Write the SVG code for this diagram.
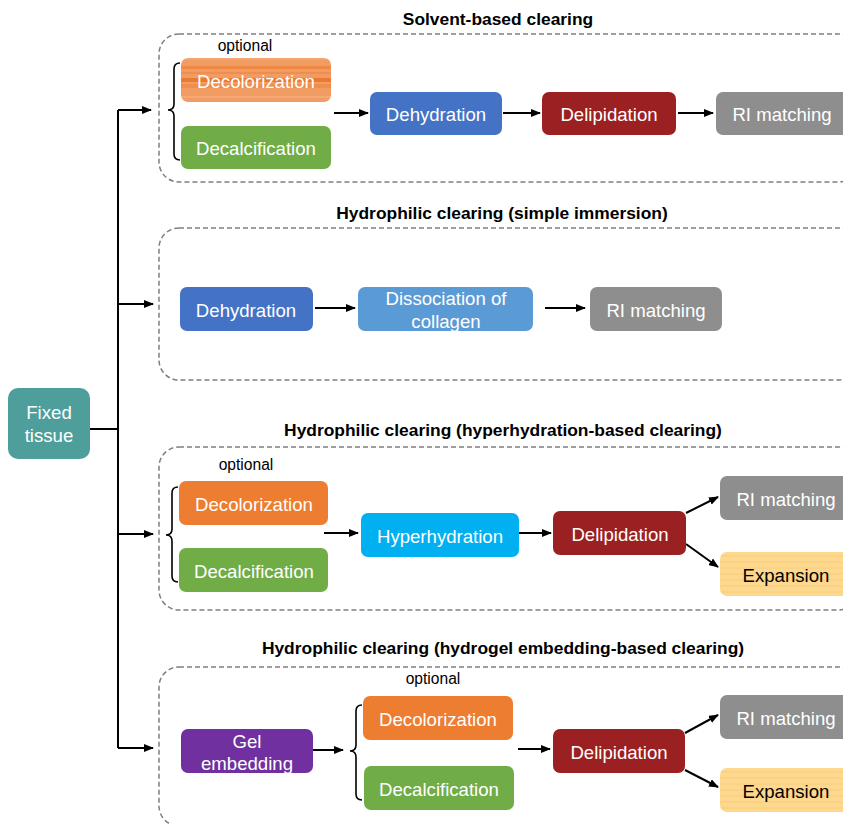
<svg xmlns="http://www.w3.org/2000/svg" width="843" height="824" viewBox="0 0 843 824">
<defs>
<marker id="ah" markerWidth="10" markerHeight="8" refX="9" refY="4" orient="auto" markerUnits="userSpaceOnUse">
<path d="M0,0 L10,4 L0,8 Z" fill="#000"/>
</marker>
<pattern id="orstripe" width="10" height="44" patternUnits="userSpaceOnUse">
<rect width="10" height="44" fill="#F19C62"/>
<rect y="8" width="10" height="2" fill="#F4A877"/>
<rect y="14" width="10" height="2" fill="#F3A571"/>
<rect y="22" width="10" height="3" fill="#EE8A45"/>
<rect y="28" width="10" height="2" fill="#EF8F4F"/>
<rect y="34" width="10" height="4" fill="#EB7A30"/>
<rect y="40" width="10" height="4" fill="#EF8E4E"/>
</pattern>
<pattern id="yelstripe" width="10" height="6" patternUnits="userSpaceOnUse">
<rect width="10" height="6" fill="#FDD990"/>
<rect y="3" width="10" height="2" fill="#FBD283"/>
</pattern>
</defs>
<style>
.title{font-family:"Liberation Sans",Arial,sans-serif;font-size:17.4px;font-weight:bold;fill:#000;text-anchor:middle}
.opt{font-family:"Liberation Sans",Arial,sans-serif;font-size:15.6px;fill:#000;text-anchor:middle}
.lbl{font-family:"Liberation Sans",Arial,sans-serif;font-size:18.6px;fill:#fff;text-anchor:middle;dominant-baseline:central}
.dk{fill:#000}
.dash{fill:none;stroke:#7f7f7f;stroke-width:1.5;stroke-dasharray:5,3}
.ln{fill:none;stroke:#000;stroke-width:2}
.arr{fill:none;stroke:#000;stroke-width:2;marker-end:url(#ah)}
.br{fill:none;stroke:#000;stroke-width:1.6}
</style>

<g id="frames">
<rect class="dash" x="159" y="34" width="700" height="148" rx="20"/>
<rect class="dash" x="159" y="228" width="700" height="152" rx="20"/>
<rect class="dash" x="159" y="447" width="700" height="163" rx="20"/>
<rect class="dash" x="159" y="667" width="700" height="159" rx="20"/>
<text class="title" x="498" y="25">Solvent-based clearing</text>
<text class="title" x="502" y="219">Hydrophilic clearing (simple immersion)</text>
<text class="title" x="503" y="436">Hydrophilic clearing (hyperhydration-based clearing)</text>
<text class="title" x="503" y="654">Hydrophilic clearing (hydrogel embedding-based clearing)</text>
<text class="opt" x="245" y="51">optional</text>
<text class="opt" x="246" y="470">optional</text>
<text class="opt" x="433" y="684">optional</text>
</g>

<g id="connectors">
<path class="ln" d="M90,429 H118 M118,110 V748"/>
<path class="arr" d="M118,110 H151"/>
<path class="arr" d="M118,304 H153"/>
<path class="arr" d="M118,534 H153"/>
<path class="arr" d="M118,748 H153"/>
<path class="br" d="M180,63 Q174,63 174,69 V104 Q174,110 168,110 Q174,110 174,116 V154 Q174,160 180,160"/>
<path class="br" d="M178,487 Q172,487 172,493 V529 Q172,535 166,535 Q172,535 172,541 V576 Q172,582 178,582"/>
<path class="br" d="M362,705 Q356,705 356,711 V745 Q356,751 350,751 Q356,751 356,757 V794 Q356,800 362,800"/>
<path class="arr" d="M334,113 H368"/>
<path class="arr" d="M503,113 H540"/>
<path class="arr" d="M678,113 H713"/>
<path class="arr" d="M315,308 H355"/>
<path class="arr" d="M545,308 H585"/>
<path class="arr" d="M324,533 H358"/>
<path class="arr" d="M519,533 H551"/>
<path class="arr" d="M686,513 L718,497"/>
<path class="arr" d="M686,544 L718,567"/>
<path class="arr" d="M313,750 H343"/>
<path class="arr" d="M518,749 H550"/>
<path class="arr" d="M685,733 L718,715"/>
<path class="arr" d="M685,770 L718,787"/>
</g>

<g id="fixed"><rect x="8" y="388" width="82" height="71" rx="10" fill="#4E9F9B"/><text class="lbl" x="49" y="412">Fixed</text><text class="lbl" x="49" y="435">tissue</text></g>

<g id="s1-decol"><rect x="181" y="58" width="150" height="44" rx="7" fill="url(#orstripe)"/><text class="lbl" x="256" y="81">Decolorization</text></g>
<g id="s1-decal"><rect x="181" y="126" width="150" height="43" rx="7" fill="#70AD47"/><text class="lbl" x="256" y="148">Decalcification</text></g>
<g id="s1-dehyd"><rect x="370" y="92" width="132" height="43" rx="7" fill="#4472C4"/><text class="lbl" x="436" y="114">Dehydration</text></g>
<g id="s1-delip"><rect x="542" y="92" width="134" height="43" rx="7" fill="#9B2021"/><text class="lbl" x="609" y="114">Delipidation</text></g>
<g id="s1-ri"><rect x="716" y="92" width="140" height="43" rx="7" fill="#8E8E8E"/><text class="lbl" x="782" y="114">RI matching</text></g>

<g id="s2-dehyd"><rect x="180" y="287" width="133" height="44" rx="7" fill="#4472C4"/><text class="lbl" x="246" y="310">Dehydration</text></g>
<g id="s2-dissoc"><rect x="358" y="287" width="175" height="44" rx="7" fill="#5B9BD5"/><text class="lbl" x="446" y="298">Dissociation of</text><text class="lbl" x="446" y="321">collagen</text></g>
<g id="s2-ri"><rect x="590" y="287" width="132" height="44" rx="7" fill="#8E8E8E"/><text class="lbl" x="656" y="310">RI matching</text></g>

<g id="s3-decol"><rect x="179" y="481" width="149" height="44" rx="7" fill="#ED7D31"/><text class="lbl" x="254" y="504">Decolorization</text></g>
<g id="s3-decal"><rect x="179" y="548" width="149" height="44" rx="7" fill="#70AD47"/><text class="lbl" x="254" y="571">Decalcification</text></g>
<g id="s3-hyper"><rect x="361" y="513" width="158" height="44" rx="7" fill="#00B0F0"/><text class="lbl" x="440" y="536">Hyperhydration</text></g>
<g id="s3-delip"><rect x="553" y="511" width="133" height="44" rx="7" fill="#9B2021"/><text class="lbl" x="620" y="534">Delipidation</text></g>
<g id="s3-ri"><rect x="720" y="476" width="140" height="44" rx="7" fill="#8E8E8E"/><text class="lbl" x="786" y="499">RI matching</text></g>
<g id="s3-exp"><rect x="720" y="552" width="140" height="44" rx="7" fill="url(#yelstripe)"/><text class="lbl dk" x="786" y="575">Expansion</text></g>

<g id="s4-gel"><rect x="181" y="729" width="132" height="44" rx="7" fill="#7030A0"/><text class="lbl" x="247" y="741">Gel</text><text class="lbl" x="247" y="763">embedding</text></g>
<g id="s4-decol"><rect x="363" y="696" width="150" height="44" rx="7" fill="#ED7D31"/><text class="lbl" x="438" y="719">Decolorization</text></g>
<g id="s4-decal"><rect x="364" y="766" width="150" height="44" rx="7" fill="#70AD47"/><text class="lbl" x="439" y="789">Decalcification</text></g>
<g id="s4-delip"><rect x="553" y="729" width="132" height="44" rx="7" fill="#9B2021"/><text class="lbl" x="619" y="752">Delipidation</text></g>
<g id="s4-ri"><rect x="720" y="695" width="140" height="44" rx="7" fill="#8E8E8E"/><text class="lbl" x="786" y="718">RI matching</text></g>
<g id="s4-exp"><rect x="720" y="768" width="140" height="44" rx="7" fill="url(#yelstripe)"/><text class="lbl dk" x="786" y="791">Expansion</text></g>
</svg>
